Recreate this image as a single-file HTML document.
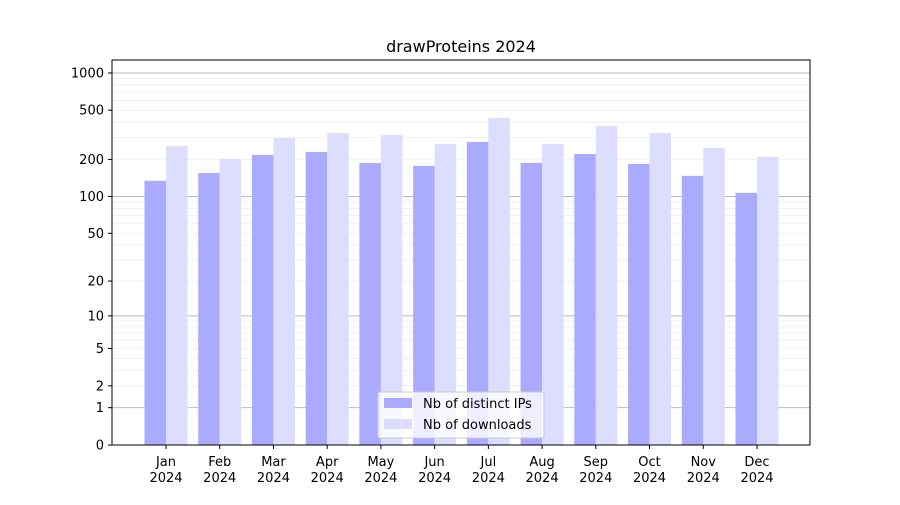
<!DOCTYPE html>
<html><head><meta charset="utf-8"><style>
body{margin:0;background:#fff;font-family:"Liberation Sans",sans-serif;}
svg text{font-family:"DejaVu Sans","Liberation Sans",sans-serif;}
</style></head><body>
<svg id="chart" width="900" height="500" xmlns="http://www.w3.org/2000/svg">
<rect width="900" height="500" fill="#fff"/>
<text x="461" y="52" font-size="16" text-anchor="middle">drawProteins 2024</text>
<g id="grid"></g><g id="bars"></g><g id="axes"></g>
<g>
<rect x="378" y="392" width="166" height="46" fill="#fff" fill-opacity="0.8" stroke="#ccc" rx="2"/>
<rect x="384" y="398" width="28" height="10" fill="#aaaaff"/>
<text x="423" y="408" font-size="13">Nb of distinct IPs</text>
<rect x="384" y="419" width="28" height="10" fill="#ddddff"/>
<text x="423" y="429" font-size="13">Nb of downloads</text>
</g>
</svg>
<script>
const months=["Jan","Feb","Mar","Apr","May","Jun","Jul","Aug","Sep","Oct","Nov","Dec"];
const ips=[134,155,217,230,187,177,277,187,221,184,147,107];
const downloads=[257,202,298,327,315,266,433,266,373,327,248,209];
const yTicks=[0,1,2,5,10,20,50,100,200,500,1000];
const NS="http://www.w3.org/2000/svg";
const L=112,R=810,T=60,B=445;
function y(v){return B-124*Math.log10(v+1);}
function xc(i){return 166+i*(757-166)/11;}
function mk(tag,attrs,parent){const e=document.createElementNS(NS,tag);for(const k in attrs)e.setAttribute(k,attrs[k]);parent.appendChild(e);return e;}
const grid=document.getElementById('grid'),bars=document.getElementById('bars'),axes=document.getElementById('axes');
for(let d=1;d<=1000;d*=10){for(let m=1;m<10;m++){const v=d*m;if(v>1200)break;const gy=y(v);
const l=mk('line',{x1:L,x2:R,y1:gy,y2:gy,stroke:m==1?'#bbb':'#eee','stroke-width':m==1?1:0.8},grid);

}}
months.forEach((m,i)=>{const c=xc(i);
const a=mk('rect',{x:c-21.5,y:y(ips[i]),width:21.5,height:B-y(ips[i]),fill:'#aaaaff'},bars);


const b=mk('rect',{x:c,y:y(downloads[i]),width:21.5,height:B-y(downloads[i]),fill:'#ddddff'},bars);


mk('line',{x1:c,x2:c,y1:B,y2:B+4,stroke:'#000'},axes);
const t=mk('text',{x:c,y:B+21,'font-size':13,'text-anchor':'middle'},axes);t.textContent=m;


const t2=mk('text',{x:c,y:B+37,'font-size':13,'text-anchor':'middle'},axes);t2.textContent='2024';


});
yTicks.forEach(v=>{const ty=y(v);
mk('line',{x1:L-4,x2:L,y1:ty,y2:ty,stroke:'#000'},axes);
const t=mk('text',{x:L-8,y:ty+4.5,'font-size':13,'text-anchor':'end'},axes);t.textContent=v;


});
const f=mk('rect',{x:L,y:T,width:R-L,height:B-T,fill:'none',stroke:'#000'},axes);


</script>
</body></html>
